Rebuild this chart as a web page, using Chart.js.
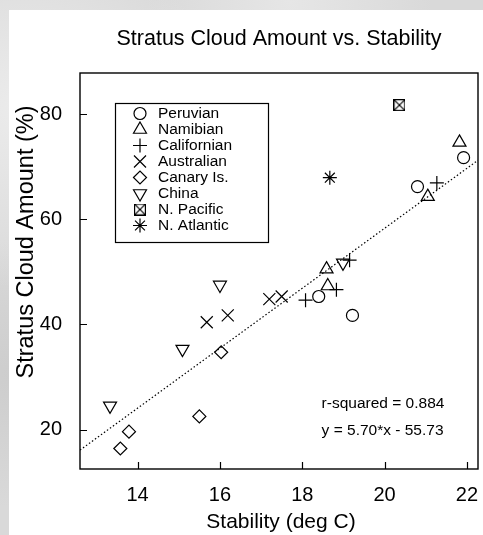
<!DOCTYPE html>
<html>
<head>
<meta charset="utf-8">
<title>Stratus Cloud Amount vs. Stability</title>
<script src="https://cdn.jsdelivr.net/npm/chart.js@4.4.1/dist/chart.umd.min.js"></script>
<style>
  html, body { margin: 0; padding: 0; }
  body {
    width: 483px;
    height: 535px;
    overflow: hidden;
    position: relative;
    background:
      radial-gradient(ellipse at 5% 20%, #ececec 0%, rgba(236,236,236,0) 30%),
      radial-gradient(ellipse at 3% 70%, #cdcdcd 0%, rgba(205,205,205,0) 25%),
      radial-gradient(ellipse at 60% 0%, #e6e6e6 0%, rgba(230,230,230,0) 35%),
      #d9d9d9;
  }
  #paper {
    position: absolute;
    left: 9px; top: 10px; right: 0; bottom: 0;
    background: #fff;
  }
  #stabilityChart { position: absolute; left: 0; top: 0; }
</style>
</head>
<body>
<div id="paper"></div>
<canvas id="stabilityChart" width="483" height="535"></canvas>

<script>
/* ================================
   Data
================================ */
const seriesNames = ["Peruvian", "Namibian", "Californian", "Australian",
                     "Canary Is.", "China", "N. Pacific", "N. Atlantic"];

const peruvianX    = [18.40, 19.22, 20.80, 21.92];
const peruvianY    = [45.3, 41.7, 66.2, 71.7];

const namibianX    = [18.59, 18.62, 21.05, 21.82];
const namibianY    = [50.5, 47.3, 64.3, 74.6];

const californianX = [18.08, 18.83, 19.15, 21.27];
const californianY = [44.6, 46.6, 52.2, 66.9];

const australianX  = [15.68, 16.19, 17.20, 17.50];
const australianY  = [40.4, 41.7, 44.8, 45.3];

const canaryX      = [13.58, 13.79, 15.50, 16.03];
const canaryY      = [16.4, 19.6, 22.5, 34.7];

const chinaX       = [13.33, 15.09, 16.00, 18.99];
const chinaY       = [24.5, 35.3, 47.5, 51.7];

const nPacificX    = [20.36];
const nPacificY    = [81.7];

const nAtlanticX   = [18.67];
const nAtlanticY   = [67.9];

const xTicks = [14, 16, 18, 20, 22];
const yTicks = [20, 40, 60, 80];

// least-squares fit quoted on the plot
const fitSlope = 5.70;
const fitIntercept = -55.73;
const fitRSquared = 0.884;

/* ================================
   Styles
================================ */
const FONT = "'Liberation Sans', Arial, Helvetica, sans-serif";
const X_MIN = 12.6, X_MAX = 22.27;
const Y_MIN = 12.5, Y_MAX = 87.8;

// square with both diagonals, used for N. Pacific
function boxCrossMarker(size) {
  const c = document.createElement("canvas");
  c.width = size;
  c.height = size;
  const g = c.getContext("2d");
  g.strokeStyle = "#000";
  g.lineWidth = 1.2;
  g.strokeRect(0.6, 0.6, size - 1.2, size - 1.2);
  g.beginPath();
  g.moveTo(0.6, 0.6); g.lineTo(size - 0.6, size - 0.6);
  g.moveTo(size - 0.6, 0.6); g.lineTo(0.6, size - 0.6);
  g.stroke();
  return c;
}

const markers = [
  { style: "circle",   radius: 6,   rotation: 0 },
  { style: "triangle", radius: 7.5, rotation: 0 },
  { style: "cross",    radius: 7,   rotation: 0 },
  { style: "crossRot", radius: 8.5, rotation: 0 },
  { style: "rectRot",  radius: 6.5, rotation: 0 },
  { style: "triangle", radius: 7.5, rotation: 180 },
  { style: boxCrossMarker(12), radius: 6, rotation: 0 },
  { style: "star",     radius: 7,   rotation: 0 }
];

const seriesX = [peruvianX, namibianX, californianX, australianX, canaryX, chinaX, nPacificX, nAtlanticX];
const seriesY = [peruvianY, namibianY, californianY, australianY, canaryY, chinaY, nPacificY, nAtlanticY];

const pointSets = seriesNames.map((name, i) => ({
  label: name,
  data: seriesX[i].map((x, j) => ({ x, y: seriesY[i][j] })),
  pointStyle: markers[i].style,
  pointRadius: markers[i].radius,
  pointRotation: markers[i].rotation,
  pointBorderWidth: 1.2,
  pointBorderColor: "#000",
  pointBackgroundColor: "rgba(0,0,0,0)",
  order: 0
}));

const fitLine = {
  label: "fit",
  data: [X_MIN, X_MAX].map(x => ({ x, y: fitSlope * x + fitIntercept })),
  showLine: true,
  borderColor: "#000",
  borderWidth: 1.2,
  borderDash: [1.5, 2.2],
  pointRadius: 0,
  order: 1
};

/* ================================
   Plugins
================================ */
const frameAndTicks = {
  id: "frameAndTicks",
  afterDatasetsDraw(chart) {
    const { ctx, chartArea: a, scales } = chart;
    ctx.save();
    ctx.strokeStyle = "#000";
    ctx.lineWidth = 1.4;
    ctx.strokeRect(a.left, a.top, a.right - a.left, a.bottom - a.top);

    ctx.lineWidth = 1.2;
    ctx.beginPath();
    xTicks.forEach(v => {
      const px = Math.round(scales.x.getPixelForValue(v)) + 0.5;
      ctx.moveTo(px, a.bottom);
      ctx.lineTo(px, a.bottom - 7);
    });
    yTicks.forEach(v => {
      const py = Math.round(scales.y.getPixelForValue(v)) + 0.5;
      ctx.moveTo(a.left, py);
      ctx.lineTo(a.left + 7, py);
    });
    ctx.stroke();
    ctx.restore();
  }
};

const labelsAndKey = {
  id: "labelsAndKey",
  afterDraw(chart) {
    const { ctx, scales } = chart;
    ctx.save();
    ctx.fillStyle = "#000";

    // axis titles
    ctx.font = `21px ${FONT}`;
    ctx.textAlign = "center";
    ctx.textBaseline = "alphabetic";
    ctx.fillText("Stability (deg C)", 281, 528);

    ctx.save();
    ctx.translate(27, 242);
    ctx.rotate(-Math.PI / 2);
    ctx.font = `23.5px ${FONT}`;
    ctx.textBaseline = "middle";
    ctx.fillText("Stratus Cloud Amount (%)", 0, 0);
    ctx.restore();

    // key box
    const boxL = 115, boxT = 103, boxR = 268, boxB = 242;
    ctx.lineWidth = 1.2;
    ctx.strokeStyle = "#000";
    ctx.strokeRect(boxL + 0.5, boxT + 0.5, boxR - boxL, boxB - boxT);

    ctx.font = `15.5px ${FONT}`;
    ctx.textAlign = "left";
    ctx.textBaseline = "middle";
    seriesNames.forEach((name, i) => {
      const y = 113.5 + i * 16;
      ctx.fillStyle = "rgba(0,0,0,0)";
      ctx.strokeStyle = "#000";
      ctx.lineWidth = 1.2;
      Chart.helpers.drawPoint(ctx, {
        pointStyle: markers[i].style,
        rotation: markers[i].rotation,
        radius: markers[i].radius,
        borderWidth: 1.2
      }, 140, y);
      ctx.fillStyle = "#000";
      ctx.fillText(name, 158, y);
    });

    // fit statistics
    const statLines = [
      `r-squared = ${fitRSquared.toFixed(3)}`,
      `y = ${fitSlope.toFixed(2)}*x - ${Math.abs(fitIntercept).toFixed(2)}`
    ];
    const sx = scales.x.getPixelForValue(18.47);
    ctx.fillText(statLines[0], sx, scales.y.getPixelForValue(25.0));
    ctx.fillText(statLines[1], sx, scales.y.getPixelForValue(19.8));
    ctx.restore();
  }
};

/* ================================
   Render Chart
================================ */
Chart.defaults.font.family = FONT;
Chart.defaults.color = "#000";

new Chart(document.getElementById("stabilityChart"), {
  type: "scatter",
  data: { datasets: [...pointSets, fitLine] },
  options: {
    responsive: false,
    devicePixelRatio: 1,
    animation: false,
    layout: { autoPadding: false, padding: { left: 0, right: 5, top: 0, bottom: 0 } },
    plugins: {
      legend: { display: false },
      tooltip: { enabled: false },
      title: {
        display: true,
        text: "Stratus Cloud Amount vs. Stability",
        fullSize: false,
        color: "#000",
        font: { size: 21.5, weight: "normal", family: FONT },
        padding: { top: 26, bottom: 21.2 }
      }
    },
    scales: {
      x: {
        type: "linear",
        min: X_MIN,
        max: X_MAX,
        afterBuildTicks: s => { s.ticks = xTicks.map(v => ({ value: v })); },
        afterFit: s => { s.height = 66; s.paddingLeft = 0; s.paddingRight = 0; },
        grid: { display: false, drawTicks: false },
        border: { display: false },
        ticks: { padding: 14.5, font: { size: 20 }, color: "#000", maxRotation: 0 }
      },
      y: {
        type: "linear",
        min: Y_MIN,
        max: Y_MAX,
        afterBuildTicks: s => { s.ticks = yTicks.map(v => ({ value: v })); },
        afterFit: s => { s.width = 80; s.paddingTop = 0; s.paddingBottom = 0; },
        grid: { display: false, drawTicks: false },
        border: { display: false },
        ticks: { padding: 18, font: { size: 20 }, color: "#000" }
      }
    }
  },
  plugins: [frameAndTicks, labelsAndKey]
});
</script>
</body>
</html>
